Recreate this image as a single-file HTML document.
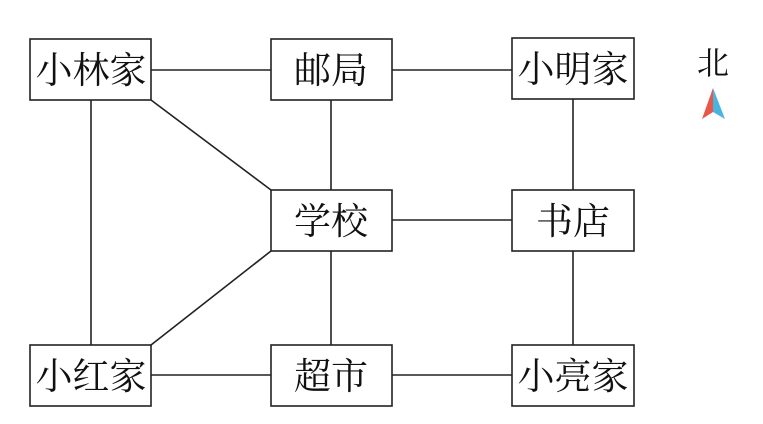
<!DOCTYPE html>
<html><head><meta charset="utf-8"><style>
html,body{margin:0;padding:0;background:#fff;width:763px;height:424px;overflow:hidden}
</style></head><body>
<svg width="763" height="424" xmlns="http://www.w3.org/2000/svg">
<g stroke="#222" stroke-width="1.6" fill="none">
<line x1="151" y1="70" x2="271" y2="70"/>
<line x1="392" y1="70" x2="512" y2="70"/>
<line x1="392" y1="220" x2="512" y2="220"/>
<line x1="151" y1="375" x2="271" y2="375"/>
<line x1="392" y1="375" x2="512" y2="375"/>
<line x1="91" y1="100" x2="91" y2="345"/>
<line x1="331" y1="100" x2="331" y2="190"/>
<line x1="331" y1="251" x2="331" y2="345"/>
<line x1="573" y1="99" x2="573" y2="190"/>
<line x1="573" y1="251" x2="573" y2="345"/>
<line x1="151" y1="100" x2="271" y2="190"/>
<line x1="151" y1="345" x2="271" y2="251"/>
<rect x="30" y="39" width="121" height="61"/>
<rect x="271" y="39" width="121" height="61"/>
<rect x="512" y="38" width="122" height="61"/>
<rect x="271" y="190" width="121" height="61"/>
<rect x="512" y="190" width="122" height="61"/>
<rect x="30" y="345" width="121" height="61"/>
<rect x="271" y="345" width="121" height="61"/>
<rect x="512" y="345" width="122" height="61"/>
</g>
<g font-family="'Noto Serif CJK SC','Liberation Serif',serif" font-size="37" fill="#111" text-anchor="middle">
<text x="91" y="83">小林家</text>
<text x="331" y="83">邮局</text>
<text x="573" y="82">小明家</text>
<text x="331" y="234">学校</text>
<text x="573" y="234">书店</text>
<text x="91" y="389">小红家</text>
<text x="331" y="389">超市</text>
<text x="573" y="389">小亮家</text>
<text x="713" y="74" font-size="32">北</text>
</g>
<polygon points="713,88 702,119 713,112" fill="#e8584a"/>
<polygon points="713,88 725,119 713,112" fill="#4ab4e0"/>
</svg>
</body></html>
